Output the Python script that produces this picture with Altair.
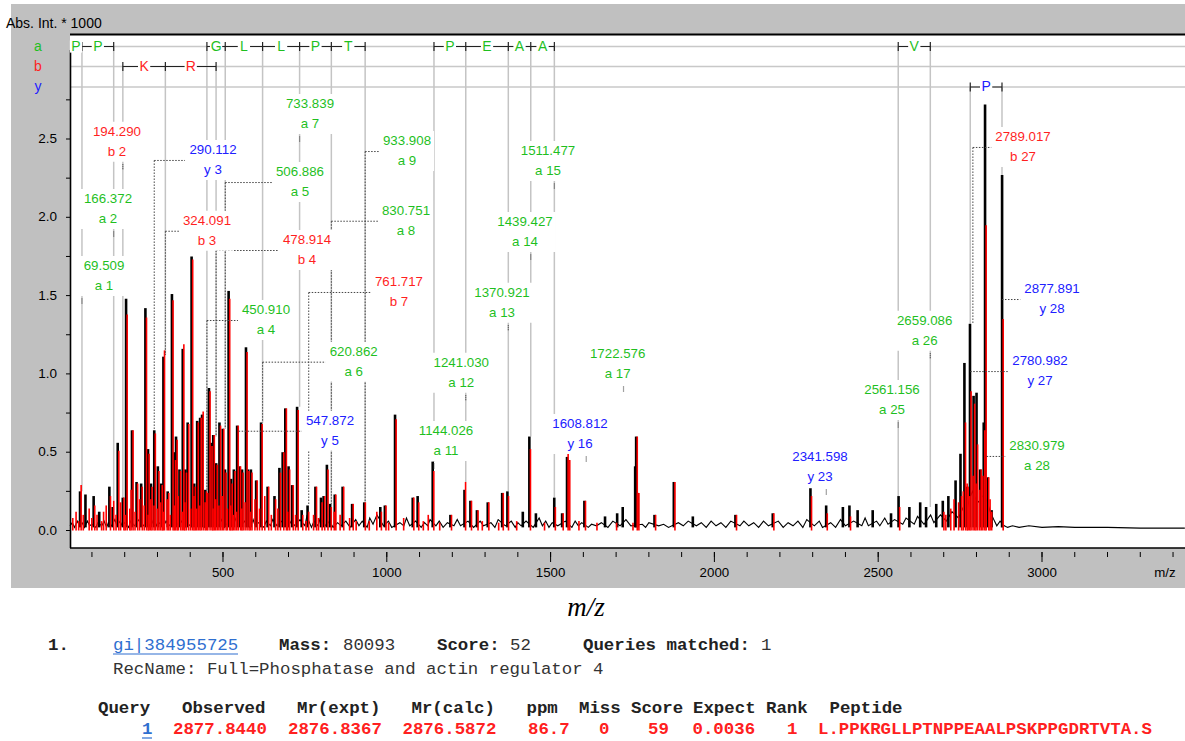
import altair as alt
import pandas as pd

# ------------------------------------------------------------------ data
# black profile spikes: (m/z, intensity in Abs. Int. * 1000)
black_peaks = [
    (65.5, .25), (82, .23), (107, .22), (124, .12), (155, .28), (165, .15), (180.5, .56), (196, .21),
    (206, 1.48), (224, .64), (238, .31), (252, .30), (265, 1.42), (273, .52), (282, .30), (292, .64),
    (303, .41), (313, .30), (320, 1.11), (333, .25), (346, 1.51), (353.5, .50), (358.5, .60), (369, .39),
    (379, 1.16), (387, .39), (394, .69), (406, 1.75), (414, .30), (423, .70), (432, .72), (438, .74),
    (448, .26), (459, .91), (465, .56), (472, .61), (481, .43), (491, .69), (501, .65), (508, .39),
    (519, 1.53), (526.5, .33), (535, .39), (545, .67), (552, .41), (560, .39), (572, 1.17), (578, .39),
    (587, .39), (603, .32), (618, .69), (638, .28), (659, .22), (674, .40), (684, .50), (692, .78),
    (702, .41), (713, .29), (728, .79), (742, .13), (760, .16), (784, .28), (801, .21), (809, .22),
    (819, .42), (829, .17), (843, .23), (867, .28), (896, .17), (933, .18), (982, .15), (996, .16),
    (1027, .74), (1081, .21), (1096, .22), (1142, .44), (1196, .10), (1239, .26), (1257, .19), (1277, .13),
    (1310, .18), (1354, .24), (1370, .25), (1417, .12), (1437, .60), (1457, .11), (1513, .21), (1537, .11),
    (1552, .47), (1557, .45), (1605, .19), (1668, .09), (1705, .11), (1722, .15), (1760, .41), (1763, .60),
    (1768, .24), (1819, .10), (1878, .31), (1936, .09), (2066, .10), (2180, .11), (2295, .27), (2343, .16),
    (2394, .15), (2414, .16), (2439, .13), (2485, .13), (2541, .11), (2564, .22), (2597, .15), (2630, .18),
    (2648, .15), (2679, .17), (2699, .19), (2716, .22), (2738, .32), (2753, .49), (2765, 1.07), (2773, .28),
    (2782, 1.32), (2793, .86), (2802, .88), (2813, .39), (2824, .69), (2828, 2.72), (2836, .34), (2848, .13),
    (2880, 2.27),
]

# red sticks of the matched peak list: (m/z, intensity)
red_peaks = [
    (65.5, .29), (107, .16), (155, .22), (165, .19), (180.5, .51), (196, .21), (206, 1.38), (224, .64),
    (238, .30), (252, .28), (265, 1.36), (273, .49), (282, .28), (292, .62), (303, .38), (313, .29),
    (320, 1.15), (333, .24), (346, 1.47), (353.5, .45), (358.5, .58), (369, .38), (379, 1.19), (387, .37),
    (394, .68), (406, 1.73), (414, .28), (423, .69), (432, .72), (438, .76), (448, .25), (459, .89),
    (465, .54), (472, .61), (481, .42), (491, .67), (501, .65), (508, .37), (519, 1.48), (526.5, .30),
    (535, .38), (545, .67), (552, .41), (560, .37), (572, 1.14), (578, .38), (587, .37), (603, .32),
    (618, .68), (638, .28), (659, .20), (674, .37), (684, .50), (692, .78), (702, .39), (713, .29),
    (728, .77), (742, .10), (760, .12), (784, .28), (801, .18), (809, .22), (819, .39), (829, .15),
    (843, .23), (867, .28), (896, .17), (933, .18), (982, .12), (996, .16), (1027, .71), (1081, .21),
    (1096, .18), (1142, .38), (1196, .10), (1239, .31), (1257, .19), (1277, .13), (1310, .18), (1354, .24),
    (1370, .22), (1437, .52), (1513, .15), (1537, .11), (1552, .50), (1557, .45), (1605, .19), (1763, .60),
    (1768, .24), (1819, .10), (1878, .31), (2066, .10), (2180, .11), (2295, .22), (2343, .11), (2414, .09),
    (2564, .15), (2699, .12), (2753, .22), (2765, .69), (2773, .28), (2782, .89), (2793, .81), (2802, .55),
    (2813, .39), (2824, .64), (2828, 1.95), (2836, .34), (2880, 1.35),
    # small matched peaks near the noise level
    (40, .08), (50, .12), (58, .06), (72, .10), (90, .14), (98, .08), (114, .10), (128, .06),
    (134, .12), (142, .16), (172, .10), (186, .18), (200, .10), (214, .14), (218, .26), (230, .12),
    (244, .20), (258, .16), (270, .10), (278, .20), (288, .16), (298, .14), (308, .18), (316, .12),
    (328, .20), (338, .10), (350, .16), (362, .22), (374, .12), (382, .18), (400, .14), (410, .22),
    (418, .14), (428, .16), (444, .18), (452, .24), (468, .14), (476, .20), (486, .16), (496, .22),
    (512, .14), (522, .16), (530, .10), (540, .12), (556, .14), (566, .18), (582, .12), (596, .20),
    (610, .14), (626, .22), (646, .10), (666, .14), (696, .12), (720, .10), (752, .06), (775, .10),
    (790, .08), (838, .12), (856, .10), (885, .08), (905, .06), (945, .06), (968, .12), (1004, .05),
    (1050, .08), (1110, .06), (1125, .10), (1160, .05), (1290, .06), (1340, .05), (1395, .06), (1480, .05),
    (1585, .06), (1640, .05), (1700, .05), (1750, .05), (2705, .10), (2720, .14), (2730, .20), (2744, .18),
    (2758, .25), (2770, .30), (2778, .22), (2788, .35), (2797, .30), (2808, .26), (2818, .35), (2840, .20),
    (2845, .12),
]

# baseline noise trace of the profile: (m/z, intensity)
noise = [
    (33, .03), (40, .05), (47, .02), (55, .06), (62, .03), (70, .05), (77, .02), (86, .06), (93, .03),
    (100, .04), (112, .02), (118, .05), (130, .03), (137, .06), (145, .02), (150, .05), (160, .03),
    (170, .07), (176, .03), (186, .06), (192, .03), (200, .05), (212, .02), (218, .06), (230, .03),
    (244, .07), (258, .03), (270, .06), (278, .02), (288, .07), (298, .03), (308, .05), (317, .02),
    (326, .06), (338, .03), (350, .08), (364, .03), (374, .06), (383, .02), (390, .05), (400, .03),
    (410, .07), (418, .03), (428, .06), (443, .02), (452, .05), (462, .03), (476, .06), (486, .03),
    (496, .07), (504, .02), (514, .05), (530, .03), (540, .08), (556, .03), (566, .06), (582, .02),
    (592, .07), (598, .03), (608, .05), (625, .02), (632, .06), (645, .03), (652, .07), (665, .03),
    (680, .06), (697, .02), (708, .06), (720, .03), (735, .07), (750, .03), (756, .09), (770, .02),
    (778, .06), (790, .03), (797, .08), (814, .03), (825, .06), (836, .02), (850, .05), (860, .03),
    (875, .06), (888, .02), (905, .07), (915, .03), (925, .06), (940, .02), (948, .08), (958, .04),
    (970, .10), (990, .03), (1005, .06), (1015, .02), (1040, .05), (1052, .03), (1060, .08), (1070, .03),
    (1088, .06), (1105, .02), (1115, .05), (1125, .03), (1132, .07), (1150, .03), (1160, .06), (1172, .02),
    (1185, .05), (1205, .03), (1215, .07), (1225, .03), (1248, .06), (1265, .02), (1285, .06), (1295, .03),
    (1318, .05), (1330, .02), (1340, .07), (1362, .03), (1380, .06), (1392, .02), (1400, .05), (1410, .03),
    (1425, .06), (1447, .02), (1465, .08), (1475, .03), (1485, .06), (1495, .02), (1505, .05), (1522, .03),
    (1545, .06), (1565, .02), (1575, .06), (1585, .03), (1595, .05), (1615, .02), (1625, .04), (1640, .03),
    (1655, .05), (1675, .02), (1690, .06), (1712, .03), (1730, .07), (1745, .03), (1780, .04), (1790, .02),
    (1800, .05), (1830, .03), (1845, .04), (1860, .02), (1890, .05), (1905, .03), (1920, .06), (1945, .03),
    (1960, .05), (1975, .02), (1990, .06), (2005, .03), (2020, .05), (2035, .02), (2050, .06), (2078, .03),
    (2090, .06), (2105, .03), (2120, .05), (2135, .02), (2150, .06), (2165, .03), (2195, .06), (2210, .02),
    (2225, .05), (2240, .03), (2255, .06), (2270, .02), (2282, .07), (2305, .03), (2320, .06), (2330, .02),
    (2355, .05), (2370, .02), (2385, .07), (2400, .03), (2425, .06), (2450, .03), (2460, .08), (2470, .03),
    (2495, .06), (2505, .03), (2520, .08), (2530, .04), (2550, .07), (2575, .04), (2585, .08), (2610, .04),
    (2620, .09), (2640, .04), (2660, .10), (2670, .05), (2690, .10), (2708, .06), (2725, .12), (2745, .08),
    (2760, .15), (2770, .12), (2778, .20), (2788, .25), (2798, .20), (2808, .18), (2818, .22), (2830, .20),
    (2842, .12), (2855, .06), (2862, .03), (2872, .06), (2885, .03), (2895, .02), (2910, .03), (2930, .02),
    (2960, .03), (3000, .02), (3050, .025), (3100, .02), (3200, .02), (3300, .015), (3436, .015),
]

# annotated fragment ions
ann_ion = ["a 1", "a 2", "b 2", "y 3", "b 3", "a 4", "b 4", "a 5", "a 6", "y 5", "a 7", "b 7", "a 8", "a 9",
           "a 11", "a 12", "a 13", "a 14", "a 15", "y 16", "a 17", "y 23", "a 25", "a 26", "b 27", "y 27",
           "y 28", "a 28"]
ann_mz = [69.509, 166.372, 194.290, 290.112, 324.091, 450.910, 478.914, 506.886, 620.862, 547.872, 733.839,
          761.717, 830.751, 933.908, 1144.026, 1241.030, 1370.921, 1439.427, 1511.477, 1608.812, 1722.576,
          2341.598, 2561.156, 2659.086, 2789.017, 2780.982, 2877.891, 2830.979]
# label anchor (centre of the m/z line) in data units
ann_label_mz = [136.8, 149, 176.4, 469.5, 451.2, 631.3, 756.4, 735, 899, 826.6, 765.6, 1037.2, 1058.6, 1061.7,
                1180.7, 1227.4, 1351.6, 1421.8, 1492.1, 1589.7, 1704.8, 2322.3, 2542.1, 2641.9, 2942, 2993.9,
                3030.5, 2984.7]
ann_label_int = [1.689, 2.117, 2.547, 2.43, 1.978, 1.408, 1.855, 2.289, 1.142, 0.701, 2.723, 1.587, 2.042, 2.487,
                 0.635, 1.072, 1.519, 1.970, 2.423, 0.680, 1.127, 0.469, 0.897, 1.340, 2.513, 1.082, 1.542, 0.540]
# intensity where the leader ends (peak top)
ann_peak_int = [.25, .19, .21, .64, 1.12, .26, .60, .65, .69, .67, .79, .16, .17, .18, .44, .31, .25, .60, .21,
                .45, .90, .25, .22, .15, 1.32, 1.32, 2.27, 2.72]
ann_kind = ["direct", "direct", "direct", "elbow", "elbow", "elbow", "elbow", "elbow", "elbow", "elbow", "direct",
            "elbow", "elbow", "elbow", "direct", "direct", "direct", "direct", "direct", "direct", "direct",
            "direct", "direct", "direct", "elbow", "elbow", "elbow", "elbow"]

# sequence ladder
ladder_series = ["a"] * 12 + ["b"] * 2 + ["y"]
ladder_res = ["P", "P", "G", "L", "L", "P", "T", "P", "E", "A", "A", "V", "K", "R", "P"]
ladder_from = [33.0, 69.509, 450.910, 506.886, 620.862, 733.839, 830.751, 1144.026, 1241.030, 1370.921,
               1439.427, 2561.156, 194.290, 324.091, 2780.982]
ladder_to = [69.509, 166.372, 506.886, 620.862, 733.839, 830.751, 933.908, 1241.030, 1370.921, 1439.427,
             1511.477, 2659.086, 324.091, 478.914, 2877.891]

x_ticks = list(range(100, 3500, 100))
x_labels = [500, 1000, 1500, 2000, 2500, 3000]
y_ticks = [0, 0.25, 0.5, 0.75, 1.0, 1.25, 1.5, 1.75, 2.0, 2.25, 2.5, 2.75]
y_labels = [0.0, 0.5, 1.0, 1.5, 2.0, 2.5]

# ------------------------------------------------------------------ layout / style
FONT = "Liberation Sans"
MONO = "Liberation Mono"
GREEN, RED, BLUE = "#1fbf1f", "#ff1f1f", "#2020ff"
SERIES_COLOR = {"a": GREEN, "b": RED, "y": BLUE}
W, H = 1115, 514
LEFT, TOP = 70, 34
X_DOM = [33.0, 3436.5]
Y_DOM = [-0.1117, 3.1705]
PXX = W / (X_DOM[1] - X_DOM[0])
PXY = H / (Y_DOM[1] - Y_DOM[0])
ROW_PX = {"a": 12.5, "b": 32.5, "y": 53.0}
ROW_V = {k: Y_DOM[1] - v / PXY for k, v in ROW_PX.items()}

xs = alt.Scale(domain=X_DOM, nice=False, zero=False)
ys = alt.Scale(domain=Y_DOM, nice=False, zero=False)
dummy = pd.DataFrame({"d": [0]})

# ------------------------------------------------------------------ tables
blk = pd.DataFrame(black_peaks, columns=["mz", "v"])
red = pd.DataFrame(red_peaks, columns=["mz", "v"])
nz = pd.DataFrame(noise, columns=["mz", "v"])

ann = pd.DataFrame({"ion": ann_ion, "mz": ann_mz, "lmz": ann_label_mz, "lv": ann_label_int,
                    "pv": ann_peak_int, "kind": ann_kind})
ann["series"] = ann["ion"].str[0]
ann["color"] = ann["series"].map(SERIES_COLOR)
ann["txt"] = ann["mz"].map(lambda m: f"{m:.3f}")
tw = (ann["txt"].str.len() - 1) * 7.4 + 3.7
ann["bx1"] = ann["lmz"] - (tw / 2 + 3) / PXX
ann["bx2"] = ann["lmz"] + (tw / 2 + 3) / PXX
ann["by1"] = ann["lv"] + 10 / PXY
ann["by2"] = ann["lv"] - 30 / PXY
ann["ev"] = ann["lv"] - 10.5 / PXY
ann["ex2"] = ann["lmz"] - (tw / 2 + 4) / PXX
ann["mv1"] = ann["lv"] - 32.5 / PXY
ann["mv2"] = ann["lv"] - 37.5 / PXY

lad = pd.DataFrame({"series": ladder_series, "res": ladder_res, "x1": ladder_from, "x2": ladder_to})
lad["rv"] = lad["series"].map(ROW_V)
lad["mid"] = (lad["x1"] + lad["x2"]) / 2
lad["color"] = lad["series"].map(SERIES_COLOR)

bounds = []
for s, a, b in zip(ladder_series, ladder_from, ladder_to):
    for m in (a, b):
        if m > X_DOM[0] and (s, m) not in bounds:
            bounds.append((s, m))
bnd = pd.DataFrame(bounds, columns=["series", "mz"])
bnd["rv"] = bnd["series"].map(ROW_V)
bnd["t1"] = bnd["rv"] + 4.5 / PXY
bnd["t2"] = bnd["rv"] - 4.5 / PXY
bnd = bnd.merge(ann[["series", "mz", "pv"]], on=["series", "mz"], how="left")

rows = pd.DataFrame({"rv": list(ROW_V.values())})

elb = ann[ann["kind"] == "elbow"]
elb_v = elb[elb["pv"] < elb["ev"]]
dirc = ann[ann["kind"] == "direct"]

xt = pd.DataFrame({"mz": x_ticks})
xl = pd.DataFrame({"mz": x_labels})
xl["lab"] = xl["mz"].astype(str)
yt = pd.DataFrame({"v": y_ticks})
yl = pd.DataFrame({"v": y_labels})
yl["lab"] = yl["v"].map(lambda v: f"{v:.1f}")


def X(f="mz"):
    return alt.X(f"{f}:Q", scale=xs, axis=None)


def Y(f):
    return alt.Y(f"{f}:Q", scale=ys, axis=None)


def txt(s, x, y, size, color="black", font=FONT, weight="normal", align="left", style="normal"):
    return alt.Chart(dummy).mark_text(text=s, font=font, fontSize=size, fontWeight=weight, color=color,
                                      align=align, baseline="middle", fontStyle=style).encode(
        x=alt.value(x - LEFT), y=alt.value(y - TOP))


layers = []
# gray frame and white plot area
layers.append(alt.Chart(dummy).mark_rect(color="#c0c0c0").encode(
    x=alt.value(11 - LEFT), x2=alt.value(W), y=alt.value(4 - TOP), y2=alt.value(588 - TOP)))
layers.append(alt.Chart(dummy).mark_rect(color="white").encode(
    x=alt.value(0), x2=alt.value(W), y=alt.value(0), y2=alt.value(H)))
# axes (ticks and labels through the scales)
layers.append(alt.Chart(xt).mark_rule(color="black", strokeWidth=1).encode(
    x=X(), y=alt.value(H + 4), y2=alt.value(H + 9)))
layers.append(alt.Chart(xl).mark_rule(color="black", strokeWidth=1).encode(
    x=X(), y=alt.value(H + 4), y2=alt.value(H + 14)))
layers.append(alt.Chart(xl).mark_text(font=FONT, fontSize=13.3, color="black", baseline="middle").encode(
    x=X(), y=alt.value(H + 25), text="lab:N"))
layers.append(alt.Chart(yt).mark_rule(color="black", strokeWidth=1).encode(
    x=alt.value(-4), x2=alt.value(0), y=Y("v")))
layers.append(alt.Chart(yl).mark_text(font=FONT, fontSize=13.5, color="black", baseline="middle",
                                      align="right").encode(x=alt.value(-13), y=Y("v"), text="lab:N"))
# row guide lines
layers.append(alt.Chart(rows).mark_rule(color="#c8c8c8", strokeWidth=1.5).encode(
    x=alt.value(0), x2=alt.value(W), y=Y("rv")))
# leader lines from ladder
layers.append(alt.Chart(bnd).mark_rule(color="#c4c4c4", strokeWidth=1.5).encode(
    x=X(), y=Y("rv"), y2="pv:Q"))
# spectrum
layers.append(alt.Chart(nz).mark_line(color="black", strokeWidth=1.1).encode(x=X(), y=Y("v")))
layers.append(alt.Chart(blk).mark_rule(color="black", strokeWidth=2.6, xOffset=-0.6).encode(
    x=X(), y=Y("v"), y2=alt.datum(0.02)))
layers.append(alt.Chart(red).mark_rule(color="#ff0000", strokeWidth=1.6, xOffset=0.5).encode(
    x=X(), y=Y("v"), y2=alt.datum(0.0)))
# axis lines and top border
layers.append(alt.Chart(dummy).mark_rule(color="black", strokeWidth=1.6).encode(
    x=alt.value(0), x2=alt.value(W), y=alt.value(H)))
layers.append(alt.Chart(dummy).mark_rule(color="black", strokeWidth=1.6).encode(
    x=alt.value(0.5), y=alt.value(16), y2=alt.value(H)))
layers.append(alt.Chart(dummy).mark_rule(color="black", strokeWidth=2).encode(
    x=alt.value(0), x2=alt.value(W), y=alt.value(0.5)))
# ladder
layers.append(alt.Chart(lad).mark_rule(color="#222", strokeWidth=1).encode(x=X("x1"), x2="x2:Q", y=Y("rv")))
layers.append(alt.Chart(bnd).mark_rule(color="#222", strokeWidth=1.2).encode(x=X(), y=Y("t1"), y2="t2:Q"))
layers.append(alt.Chart(lad).mark_square(color="white", size=150, opacity=1).encode(x=X("mid"), y=Y("rv")))
layers.append(alt.Chart(lad).mark_text(font=FONT, fontSize=14, baseline="middle").encode(
    x=X("mid"), y=Y("rv"), text="res:N", color=alt.Color("color:N", scale=None)))
# connectors, label boxes, markers, texts
layers.append(alt.Chart(elb).mark_rule(color="#444", strokeWidth=1, strokeDash=[1.5, 1.5]).encode(
    x=X(), x2="ex2:Q", y=Y("ev")))
layers.append(alt.Chart(elb_v).mark_rule(color="#444", strokeWidth=1, strokeDash=[1.5, 1.5]).encode(
    x=X(), y=Y("ev"), y2="pv:Q"))
layers.append(alt.Chart(ann).mark_rect(color="white").encode(x=X("bx1"), x2="bx2:Q", y=Y("by1"), y2="by2:Q"))
layers.append(alt.Chart(dirc).mark_rule(color="#444", strokeWidth=1.2, strokeDash=[1, 1]).encode(
    x=X(), y=Y("mv1"), y2="mv2:Q"))
layers.append(alt.Chart(ann).mark_text(font=FONT, fontSize=13.3, baseline="middle").encode(
    x=X("lmz"), y=Y("lv"), text="txt:N", color=alt.Color("color:N", scale=None)))
layers.append(alt.Chart(ann).mark_text(font=FONT, fontSize=13.3, baseline="middle", dy=20).encode(
    x=X("lmz"), y=Y("lv"), text="ion:N", color=alt.Color("color:N", scale=None)))

# frame texts
layers.append(txt("Abs. Int. * 1000", 6, 24, 14))
layers.append(txt("a", 38, 46.5, 14, GREEN, align="center"))
layers.append(txt("b", 38, 66.5, 14, RED, align="center"))
layers.append(txt("y", 38, 87, 14, BLUE, align="center"))
layers.append(txt("m/z", 1165, 573, 13.3, align="center"))
layers.append(txt("m/z", 586, 608, 27, font="Liberation Serif", style="italic", align="center"))

# Mascot result lines
LINK = "#2f6fd0"
GREY = "#333333"
DARK = "#222222"
PEP = "#ff2020"
y1, y2r, y3r, y4r = 645, 669, 708, 729
foot = [
    ("1.", 48, y1, "bold", DARK), ("gi|384955725", 113, y1, "normal", LINK),
    ("Mass:", 279, y1, "bold", DARK), ("80093", 343, y1, "normal", GREY),
    ("Score:", 437, y1, "bold", DARK), ("52", 510, y1, "normal", GREY),
    ("Queries matched:", 583, y1, "bold", DARK), ("1", 761, y1, "normal", GREY),
    ("RecName: Full=Phosphatase and actin regulator 4", 113, y2r, "normal", GREY),
    ("Query", 98, y3r, "bold", DARK), ("Observed", 182, y3r, "bold", DARK),
    ("Mr(expt)", 297, y3r, "bold", DARK), ("Mr(calc)", 411.5, y3r, "bold", DARK),
    ("ppm", 526.5, y3r, "bold", DARK), ("Miss", 579, y3r, "bold", DARK),
    ("Score", 631, y3r, "bold", DARK), ("Expect", 693, y3r, "bold", DARK),
    ("Rank", 766, y3r, "bold", DARK), ("Peptide", 829.5, y3r, "bold", DARK),
    ("1", 142, y4r, "bold", LINK), ("2877.8440", 173, y4r, "bold", PEP),
    ("2876.8367", 288, y4r, "bold", PEP), ("2876.5872", 402.5, y4r, "bold", PEP),
    ("86.7", 528, y4r, "bold", PEP), ("0", 599, y4r, "bold", PEP),
    ("59", 648, y4r, "bold", PEP), ("0.0036", 692.5, y4r, "bold", PEP),
    ("1", 787, y4r, "bold", PEP),
    ("L.PPKRGLLPTNPPEAALPSKPPGDRTVTA.S", 818, y4r, "bold", PEP),
]
for s, x, y, wgt, col in foot:
    layers.append(txt(s, x, y, 17.4, col, font=MONO, weight=wgt))
layers.append(alt.Chart(dummy).mark_rule(color=LINK, strokeWidth=1.2).encode(
    x=alt.value(113 - LEFT), x2=alt.value(238 - LEFT), y=alt.value(654 - TOP)))
layers.append(alt.Chart(dummy).mark_rule(color=LINK, strokeWidth=1.2).encode(
    x=alt.value(142 - LEFT), x2=alt.value(152 - LEFT), y=alt.value(738 - TOP)))

chart = alt.layer(*layers).properties(
    width=W, height=H,
    autosize=alt.AutoSizeParams(type="none"),
    padding={"left": LEFT, "top": TOP, "right": 0, "bottom": 741 - TOP - H},
    background="white",
).configure_view(stroke=None)

chart.save("out.html", embed_options={"renderer": "svg", "actions": False})
